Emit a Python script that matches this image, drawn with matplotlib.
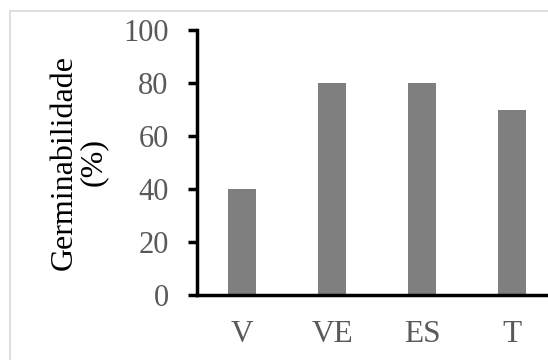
import matplotlib
matplotlib.use("Agg")
import matplotlib.pyplot as plt
from matplotlib.patches import Rectangle

categories = ["V", "VE", "ES", "T"]
germinability = [40, 80, 80, 70]
yticks = [0, 20, 40, 60, 80, 100]

plt.rcParams['font.family'] = ['Liberation Serif', 'DejaVu Serif']

W, H = 548, 360
fig = plt.figure(figsize=(W / 100, H / 100), dpi=100)

# light frame around the chart area (cut off on the right and bottom)
fig.patches.append(Rectangle((10 / W, -0.2), 1.2, (H - 11) / H + 0.2,
                             transform=fig.transFigure, fill=False,
                             edgecolor='#d9d9d9', linewidth=1.2))

# axes extend slightly past the right edge, like the reference
ax = fig.add_axes([197 / W, 65 / H, 360 / W, 265 / H])

x = range(len(categories))
ax.bar(x, germinability, width=0.32, color='#7f7f7f')

ax.set_xlim(-0.5, len(categories) - 0.5)
ax.set_ylim(0, 100)
ax.set_yticks(yticks)
ax.set_xticks(list(x))
ax.set_xticklabels(categories)

for side in ['top', 'right']:
    ax.spines[side].set_visible(False)
for side in ['left', 'bottom']:
    ax.spines[side].set_linewidth(2.5)
    ax.spines[side].set_color('black')

ax.tick_params(axis='y', direction='out', length=6.5, width=2.5,
               labelsize=22, labelcolor='#595959', pad=14)
ax.tick_params(axis='x', length=0, labelsize=22.5, labelcolor='#595959', pad=18)

ax.set_ylabel("Germinabilidade\n(%)", fontsize=23, color='black',
              linespacing=1.0, labelpad=11)

fig.savefig("out.png", dpi=100)
